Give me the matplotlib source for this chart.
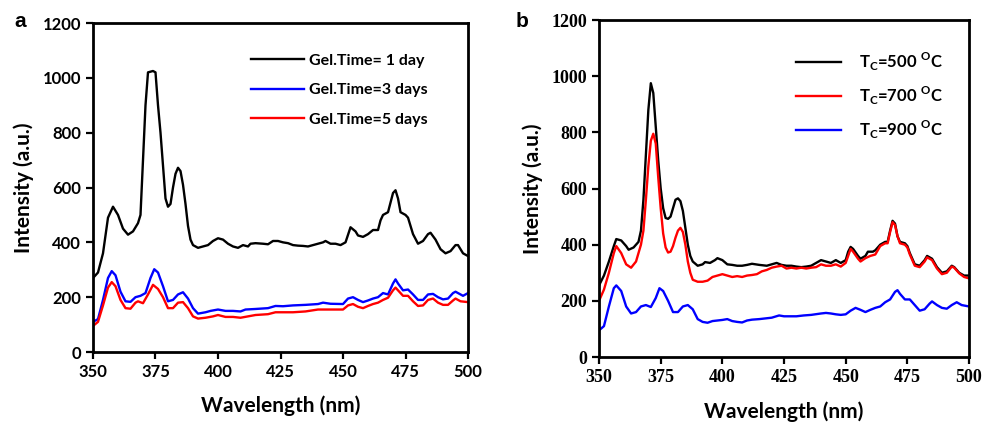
import matplotlib
matplotlib.use("Agg")
import matplotlib.pyplot as plt
import numpy as np

# ---- panel a: gel time ----
wl_a_1d = [350, 352, 354, 356, 358, 360, 362, 364, 366, 368, 369, 370, 371, 372, 374, 375, 376, 377,
           378, 379, 380, 381, 382, 383, 384, 385, 386, 387, 388, 389, 390, 392, 394, 396, 398, 400,
           402, 404, 406, 408, 410, 412, 413, 415, 418, 420, 422, 424, 426, 428, 430, 432, 434, 436,
           438, 440, 442, 443, 445, 447, 449, 451, 453, 455, 456, 458, 460, 462, 464, 465, 466, 468,
           470, 471, 472, 473, 475, 476, 478, 480, 482, 484, 485, 487, 489, 491, 493, 495, 496, 498, 500]
int_a_1d = [270, 290, 360, 490, 530, 500, 450, 428, 440, 470, 500, 700, 900, 1020, 1025, 1020, 900, 800,
            680, 560, 530, 540, 600, 650, 672, 660, 610, 540, 460, 410, 390, 380, 385, 390, 405, 415,
            410, 395, 385, 380, 390, 385, 395, 397, 395, 393, 405, 405, 400, 397, 390, 388, 387, 385,
            390, 395, 400, 405, 395, 395, 390, 400, 455, 440, 425, 420, 430, 445, 445, 480, 500, 510,
            580, 590, 560, 510, 500, 490, 430, 395, 405, 430, 435, 410, 375, 360, 368, 390, 390, 360, 350]

wl_a_3d = [350, 352, 354, 356, 357.5, 359, 361, 363, 365, 367, 369, 371, 373, 374.5, 376, 378, 380, 382,
           384, 386, 388, 390, 392, 395, 397, 400, 403, 406, 409, 411, 415, 420, 423, 426, 430, 435, 440,
           442, 445, 450, 452, 454, 456, 458, 460, 462, 464, 466, 468, 470, 471, 472, 474, 476, 478, 480,
           482, 484, 486, 488, 490, 492, 494, 495, 496, 498, 500]
int_a_3d = [110, 120, 190, 270, 295, 280, 220, 185, 183, 200, 205, 215, 270, 302, 290, 240, 185, 190,
            210, 218, 195, 160, 140, 145, 150, 155, 150, 150, 148, 155, 157, 160, 168, 167, 170, 172, 175,
            180, 176, 175, 195, 200, 190, 182, 188, 195, 200, 215, 210, 250, 265, 250, 225, 228, 210, 190,
            190, 210, 212, 200, 192, 195, 215, 220, 215, 205, 215]

wl_a_5d = [350, 352, 354, 356, 357.5, 359, 361, 363, 365, 367, 368, 370, 372, 374, 376, 378, 380, 382,
           384, 386, 388, 390, 392, 395, 398, 400, 403, 406, 409, 412, 415, 420, 423, 426, 430, 435, 440,
           445, 450, 452, 454, 456, 458, 460, 462, 464, 466, 468, 470, 471, 472, 474, 476, 478, 480, 482,
           484, 486, 488, 490, 492, 494, 495, 497, 500]
int_a_5d = [95, 110, 170, 235, 255, 240, 190, 160, 158, 180, 185, 178, 210, 245, 230, 200, 160, 160,
            180, 182, 160, 130, 122, 125, 130, 135, 128, 128, 125, 130, 135, 138, 145, 145, 145, 148, 155,
            155, 155, 170, 175, 165, 160, 168, 175, 180, 190, 198, 225, 235, 225, 205, 205, 185, 168, 170,
            190, 195, 180, 172, 172, 188, 195, 185, 182]

labels_a = ["Gel.Time= 1 day", "Gel.Time=3 days", "Gel.Time=5 days"]

# ---- panel b: calcination temperature ----
wl_b_500 = [350, 352, 354, 356, 357, 359, 361, 362, 364, 366, 367, 368, 369, 370, 371, 372, 373, 374, 375,
            376, 377, 378, 379, 380, 381, 382, 383, 384, 385, 386, 387, 388, 390, 392, 393, 395, 397, 398,
            400, 402, 404, 406, 408, 410, 412, 415, 418, 420, 422, 424, 426, 428, 430, 432, 434, 436, 438,
            440, 442, 444, 446, 448, 450, 451, 452, 453, 455, 456, 458, 459, 461, 462, 464, 466, 467, 468,
            469, 470, 471, 472, 474, 475, 476, 478, 480, 482, 483, 485, 487, 489, 491, 493, 494, 496, 498, 500]
int_b_500 = [255, 290, 340, 395, 420, 415, 395, 382, 390, 410, 450, 560, 720, 880, 975, 940, 820, 700, 600,
             530, 495, 492, 500, 530, 560, 565, 555, 520, 460, 400, 360, 340, 325, 330, 338, 335, 345, 352,
             345, 330, 328, 325, 325, 328, 332, 328, 325, 330, 335, 328, 325, 325, 322, 320, 322, 325, 335,
             345, 340, 335, 345, 335, 345, 375, 392, 385, 360, 350, 360, 375, 375, 380, 400, 410, 410, 450,
             485, 475, 430, 410, 405, 395, 370, 330, 325, 345, 360, 350, 320, 300, 305, 325, 320, 300, 290, 290]

wl_b_700 = [350, 352, 354, 356, 357, 359, 361, 363, 365, 367, 368, 369, 370, 371, 372, 373, 374, 375, 376,
            377, 378, 379, 380, 381, 382, 383, 384, 385, 386, 387, 388, 390, 392, 394, 396, 398, 400, 402,
            404, 406, 408, 410, 412, 414, 416, 418, 420, 422, 424, 426, 428, 430, 432, 434, 436, 438, 440,
            442, 444, 446, 448, 450, 451, 452, 453, 455, 456, 458, 460, 462, 464, 466, 467, 468, 469, 470,
            471, 472, 474, 475, 476, 478, 480, 482, 483, 485, 487, 489, 491, 493, 494, 496, 498, 500]
int_b_700 = [200, 240, 300, 370, 395, 370, 330, 318, 340, 400, 450, 560, 680, 770, 795, 760, 640, 530, 440,
             390, 372, 375, 395, 425, 450, 460, 445, 400, 340, 300, 275, 268, 268, 272, 285, 290, 295, 290,
             285, 288, 285, 290, 292, 295, 305, 310, 318, 322, 325, 315, 318, 315, 318, 315, 318, 320, 330,
             325, 325, 330, 322, 335, 360, 385, 375, 350, 340, 352, 360, 365, 395, 405, 405, 445, 480, 470,
             430, 405, 400, 390, 365, 325, 320, 340, 355, 345, 315, 295, 300, 322, 318, 298, 285, 280]

wl_b_900 = [350, 352, 354, 356, 357, 359, 361, 363, 365, 367, 369, 371, 373, 374.5, 376, 378, 380, 382, 384,
            386, 388, 390, 392, 394, 396, 398, 400, 402, 404, 406, 408, 410, 412, 415, 418, 420, 423, 425,
            428, 430, 433, 436, 440, 442, 444, 446, 448, 450, 452, 454, 456, 458, 460, 462, 464, 466, 468,
            470, 471, 472, 474, 476, 478, 480, 482, 484, 485, 487, 489, 491, 493, 495, 497, 500]
int_b_900 = [95, 110, 180, 245, 255, 235, 180, 155, 160, 180, 185, 178, 210, 245, 235, 200, 160, 160, 180,
             185, 170, 135, 125, 122, 128, 130, 132, 135, 128, 125, 123, 130, 133, 135, 138, 140, 148, 145,
             145, 145, 148, 150, 155, 157, 155, 152, 150, 152, 165, 175, 168, 160, 168, 175, 180, 195, 205,
             232, 238, 225, 205, 205, 185, 165, 170, 190, 198, 185, 175, 172, 185, 195, 185, 180]

labels_b = [r"T$_\mathregular{C}$=500 $^\mathregular{O}$C",
            r"T$_\mathregular{C}$=700 $^\mathregular{O}$C",
            r"T$_\mathregular{C}$=900 $^\mathregular{O}$C"]

xticks = [350, 375, 400, 425, 450, 475, 500]
yticks = [0, 200, 400, 600, 800, 1000, 1200]

plt.rcParams["font.family"] = ["Lato", "DejaVu Sans"]
plt.rcParams["font.weight"] = "bold"
plt.rcParams["mathtext.fontset"] = "custom"
plt.rcParams["mathtext.rm"] = "Lato:bold"

fig = plt.figure(figsize=(9.82, 4.23), dpi=100)
ax_a = fig.add_axes([0.0947, 0.1678, 0.3819, 0.7778])
ax_b = fig.add_axes([0.610, 0.156, 0.3768, 0.7967])

lw = 1.7
ax_a.plot(wl_a_1d, int_a_1d, color="black", lw=lw, label=labels_a[0])
ax_a.plot(wl_a_3d, int_a_3d, color="#0000ff", lw=lw, label=labels_a[1])
ax_a.plot(wl_a_5d, int_a_5d, color="#ff0000", lw=lw, label=labels_a[2])

ax_b.plot(wl_b_500, int_b_500, color="black", lw=lw, label=labels_b[0])
ax_b.plot(wl_b_700, int_b_700, color="#ff0000", lw=lw, label=labels_b[1])
ax_b.plot(wl_b_900, int_b_900, color="#0000ff", lw=lw, label=labels_b[2])

for ax in (ax_a, ax_b):
    ax.set_xlim(350, 500)
    ax.set_ylim(0, 1200)
    ax.set_xticks(xticks)
    ax.set_yticks(yticks)
    for sp in ax.spines.values():
        sp.set_linewidth(2)
    ax.tick_params(direction="out", length=5, width=1.6, labelsize=12)
    ax.set_xlabel("Wavelength (nm)", fontsize=15, fontweight="bold", labelpad=11)
    ax.set_ylabel("Intensity (a.u.)", fontsize=15, fontweight="bold", labelpad=6)

# panel b uses a serif face for its tick labels
for lab in ax_b.get_xticklabels() + ax_b.get_yticklabels():
    lab.set_fontfamily("Liberation Serif")
    lab.set_fontweight("bold")
    lab.set_fontsize(13)

ax_a.legend(loc="upper right", bbox_to_anchor=(0.93, 0.95), frameon=False, fontsize=11.5,
            handlelength=3.3, handletextpad=0.3, labelspacing=0.95)
ax_b.legend(loc="upper right", bbox_to_anchor=(0.97, 0.955), frameon=False, fontsize=12,
            handlelength=2.7, handletextpad=1.1, labelspacing=0.7)

fig.text(0.015, 0.935, "a", fontsize=15, fontweight="bold", family="Liberation Sans")
fig.text(0.525, 0.935, "b", fontsize=15, fontweight="bold", family="Liberation Sans")

fig.savefig("out.png", dpi=100)
